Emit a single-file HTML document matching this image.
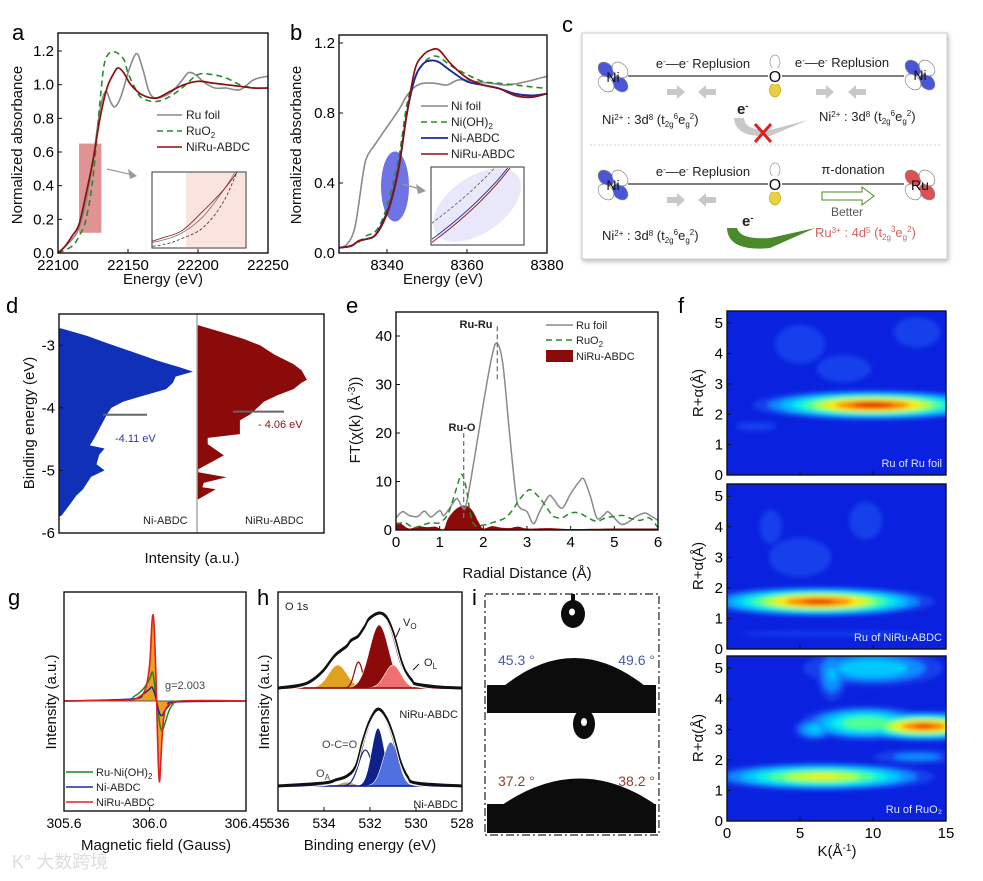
<!DOCTYPE html>
<html><head><meta charset="utf-8">
<style>
html,body{margin:0;padding:0;background:#fff;}
svg{display:block;font-family:"Liberation Sans","Noto Sans CJK SC",sans-serif;}
</style></head>
<body>
<svg id="fig" width="983" height="881" viewBox="0 0 983 881">
<defs>
  <filter id="blur2" x="-20%" y="-20%" width="140%" height="140%"><feGaussianBlur stdDeviation="2.5"/></filter>
  <filter id="shadow" x="-5%" y="-5%" width="110%" height="110%"><feDropShadow dx="1" dy="2" stdDeviation="2.5" flood-color="#888" flood-opacity="0.6"/></filter>
  <clipPath id="clipf1"><rect x="727" y="311" width="219" height="164"/></clipPath>
  <clipPath id="clipf2"><rect x="727" y="484" width="219" height="165"/></clipPath>
  <clipPath id="clipf3"><rect x="727" y="656" width="219" height="165"/></clipPath>
</defs>

<g font-size="22">
  <text x="12" y="40">a</text>
  <text x="290" y="40">b</text>
  <text x="562" y="32">c</text>
  <text x="6" y="313">d</text>
  <text x="346" y="313">e</text>
  <text x="678" y="313">f</text>
  <text x="8" y="605">g</text>
  <text x="257" y="605">h</text>
  <text x="472" y="605">i</text>
</g>

<g font-size="15" fill="#111">
  <text transform="translate(22,145) rotate(-90)" text-anchor="middle">Normalized absorbance</text>
  <text x="163" y="284" text-anchor="middle">Energy (eV)</text>
  <text transform="translate(301,145) rotate(-90)" text-anchor="middle">Normalized absorbance</text>
  <text x="443" y="284" text-anchor="middle">Energy (eV)</text>
  <text transform="translate(34,423) rotate(-90)" text-anchor="middle">Binding energy (eV)</text>
  <text x="192" y="563" text-anchor="middle">Intensity (a.u.)</text>
  <text transform="translate(360,420) rotate(-90)" text-anchor="middle">FT(χ(k) (Å<tspan baseline-shift="super" font-size="10">-3</tspan>))</text>
  <text x="527" y="578" text-anchor="middle">Radial Distance (Å)</text>
  <text transform="translate(703,393) rotate(-90)" text-anchor="middle">R+α(Å)</text>
  <text transform="translate(703,566) rotate(-90)" text-anchor="middle">R+α(Å)</text>
  <text transform="translate(703,738) rotate(-90)" text-anchor="middle">R+α(Å)</text>
  <text x="837" y="856" text-anchor="middle">K(Å<tspan baseline-shift="super" font-size="10">-1</tspan>)</text>
  <text transform="translate(56,702) rotate(-90)" text-anchor="middle">Intensity (a.u.)</text>
  <text x="156" y="850" text-anchor="middle">Magnetic field (Gauss)</text>
  <text transform="translate(269,702) rotate(-90)" text-anchor="middle">Intensity (a.u.)</text>
  <text x="370" y="850" text-anchor="middle">Binding energy (eV)</text>
</g>

<g font-size="12" fill="#222">
  <line x1="157" y1="115" x2="182" y2="115" stroke="#888" stroke-width="1.5"/>
  <text x="186" y="119">Ru foil</text>
  <line x1="157" y1="131" x2="182" y2="131" stroke="#2a8a2a" stroke-width="1.6" stroke-dasharray="6,4"/>
  <text x="186" y="135">RuO<tspan font-size="8" dy="3">2</tspan></text>
  <line x1="157" y1="147" x2="182" y2="147" stroke="#8b1010" stroke-width="1.6"/>
  <text x="186" y="151">NiRu-ABDC</text>

  <line x1="421" y1="106" x2="448" y2="106" stroke="#888" stroke-width="1.5"/>
  <text x="451" y="110">Ni foil</text>
  <line x1="421" y1="122" x2="448" y2="122" stroke="#2a8a2a" stroke-width="1.6" stroke-dasharray="6,4"/>
  <text x="451" y="126">Ni(OH)<tspan font-size="8" dy="3">2</tspan></text>
  <line x1="421" y1="138" x2="448" y2="138" stroke="#1a2a9a" stroke-width="1.8"/>
  <text x="451" y="142">Ni-ABDC</text>
  <line x1="421" y1="154" x2="448" y2="154" stroke="#8b1010" stroke-width="1.6"/>
  <text x="451" y="158">NiRu-ABDC</text>

  <line x1="546" y1="325" x2="573" y2="325" stroke="#888" stroke-width="1.5"/>
  <text x="576" y="329" font-size="11">Ru foil</text>
  <line x1="546" y1="340" x2="573" y2="340" stroke="#2a8a2a" stroke-width="1.6" stroke-dasharray="6,4"/>
  <text x="576" y="344" font-size="11">RuO<tspan font-size="8" dy="3">2</tspan></text>
  <rect x="546" y="350" width="27" height="12" fill="#8b0a0a"/>
  <text x="576" y="360" font-size="11">NiRu-ABDC</text>
  <text x="476" y="328" font-size="11" font-weight="bold" text-anchor="middle">Ru-Ru</text>
  <text x="462" y="431" font-size="11" font-weight="bold" text-anchor="middle">Ru-O</text>

  <text x="115" y="442" font-size="11" fill="#2a3aa0">-4.11 eV</text>
  <text x="258" y="428" font-size="11" fill="#8b1010">- 4.06 eV</text>
  <text x="143" y="524" font-size="11">Ni-ABDC</text>
  <text x="245" y="524" font-size="11">NiRu-ABDC</text>

  <text x="165" y="689" font-size="11" fill="#444">g=2.003</text>
  <line x1="66" y1="772" x2="93" y2="772" stroke="#1a8a1a" stroke-width="1.6"/>
  <text x="96" y="776" font-size="11">Ru-Ni(OH)<tspan font-size="8" dy="3">2</tspan></text>
  <line x1="66" y1="787" x2="93" y2="787" stroke="#1a2a9a" stroke-width="1.6"/>
  <text x="96" y="791" font-size="11">Ni-ABDC</text>
  <line x1="66" y1="802" x2="93" y2="802" stroke="#e02020" stroke-width="1.6"/>
  <text x="96" y="806" font-size="11">NiRu-ABDC</text>

  <text x="285" y="610" font-size="11">O 1s</text>
  <text x="403" y="626" font-size="11">V<tspan font-size="8" dy="3">O</tspan></text>
  <text x="424" y="666" font-size="11">O<tspan font-size="8" dy="3">L</tspan></text>
  <text x="458" y="718" font-size="11" text-anchor="end">NiRu-ABDC</text>
  <text x="322" y="748" font-size="11" fill="#444">O-C=O</text>
  <text x="316" y="777" font-size="11" fill="#444">O<tspan font-size="8" dy="3">A</tspan></text>
  <text x="458" y="808" font-size="11" text-anchor="end">Ni-ABDC</text>
  <line x1="400" y1="628" x2="396" y2="637" stroke="#111"/>
  <line x1="419" y1="664" x2="413" y2="670" stroke="#111"/>
</g>

<g>
  <rect x="485" y="594" width="174" height="241" fill="#fff" stroke="#222" stroke-width="1.2" stroke-dasharray="8,3,2,3"/>
  <rect x="487" y="685" width="169" height="28" fill="#0c0c0c"/>
  <path d="M504,686 Q574,630 645,686 Z" fill="#0c0c0c"/>
  <line x1="573" y1="594" x2="573" y2="602" stroke="#0c0c0c" stroke-width="4"/>
  <ellipse cx="573" cy="614" rx="12" ry="14" fill="#0c0c0c"/>
  <ellipse cx="572" cy="612" rx="3" ry="3.5" fill="#fff"/>
  <text x="498" y="665" font-size="14" fill="#4a5aaa">45.3 °</text>
  <text x="655" y="665" font-size="14" fill="#4a5aaa" text-anchor="end">49.6 °</text>
  <rect x="487" y="804" width="169" height="29" fill="#0c0c0c"/>
  <path d="M502,805 Q580,752 656,805 Z" fill="#0c0c0c"/>
  <ellipse cx="584" cy="724" rx="11" ry="15" fill="#0c0c0c"/>
  <ellipse cx="584" cy="722" rx="3" ry="4" fill="#fff"/>
  <text x="498" y="786" font-size="14" fill="#9a3a2a">37.2 °</text>
  <text x="655" y="786" font-size="14" fill="#9a3a2a" text-anchor="end">38.2 °</text>
</g>

<g>
  <rect x="582" y="33" width="365" height="226" fill="#fff" stroke="#ccc" filter="url(#shadow)"/>
  <line x1="590" y1="145" x2="940" y2="145" stroke="#ccc" stroke-dasharray="2,2"/>
  <g id="orbitals"></g>
  <g font-size="13" fill="#222">
    <line x1="628" y1="76" x2="904" y2="76" stroke="#555" stroke-width="1.5"/>
    <line x1="628" y1="184" x2="904" y2="184" stroke="#555" stroke-width="1.5"/>
    <text x="703" y="68" text-anchor="middle">e<tspan font-size="8" baseline-shift="super">-</tspan>—e<tspan font-size="8" baseline-shift="super">-</tspan> Replusion</text>
    <text x="842" y="67" text-anchor="middle">e<tspan font-size="8" baseline-shift="super">-</tspan>—e<tspan font-size="8" baseline-shift="super">-</tspan> Replusion</text>
    <text x="703" y="176" text-anchor="middle">e<tspan font-size="8" baseline-shift="super">-</tspan>—e<tspan font-size="8" baseline-shift="super">-</tspan> Replusion</text>
    <text x="853" y="174" text-anchor="middle">π-donation</text>
    <text x="602" y="124">Ni<tspan font-size="8" baseline-shift="super">2+</tspan> : 3d<tspan font-size="8" baseline-shift="super">8</tspan> (t<tspan font-size="8" dy="3">2g</tspan><tspan font-size="8" dy="-8">6</tspan><tspan dy="5">e</tspan><tspan font-size="8" dy="3">g</tspan><tspan font-size="8" dy="-8">2</tspan><tspan dy="5">)</tspan></text>
    <text x="819" y="121">Ni<tspan font-size="8" baseline-shift="super">2+</tspan> : 3d<tspan font-size="8" baseline-shift="super">8</tspan> (t<tspan font-size="8" dy="3">2g</tspan><tspan font-size="8" dy="-8">6</tspan><tspan dy="5">e</tspan><tspan font-size="8" dy="3">g</tspan><tspan font-size="8" dy="-8">2</tspan><tspan dy="5">)</tspan></text>
    <text x="602" y="240">Ni<tspan font-size="8" baseline-shift="super">2+</tspan> : 3d<tspan font-size="8" baseline-shift="super">8</tspan> (t<tspan font-size="8" dy="3">2g</tspan><tspan font-size="8" dy="-8">6</tspan><tspan dy="5">e</tspan><tspan font-size="8" dy="3">g</tspan><tspan font-size="8" dy="-8">2</tspan><tspan dy="5">)</tspan></text>
    <text x="815" y="237" fill="#d86060">Ru<tspan font-size="8" baseline-shift="super">3+</tspan> : 4d<tspan font-size="8" baseline-shift="super">5</tspan> (t<tspan font-size="8" dy="3">2g</tspan><tspan font-size="8" dy="-8">3</tspan><tspan dy="5">e</tspan><tspan font-size="8" dy="3">g</tspan><tspan font-size="8" dy="-8">2</tspan><tspan dy="5">)</tspan></text>
    <text x="737" y="114" font-weight="bold" font-size="15">e<tspan font-size="9" baseline-shift="super">-</tspan></text>
    <text x="742" y="226" font-weight="bold" font-size="15">e<tspan font-size="9" baseline-shift="super">-</tspan></text>
    <text x="847" y="216" text-anchor="middle" font-size="12" fill="#555">Better</text>
  </g>
  <path d="M734,118 Q735,138 770,136 L808,120 L770,130 Q745,131 744,118 Z" fill="#c8c8c8"/>
  <path d="M755,124 L771,142 M771,124 L755,142" stroke="#e02020" stroke-width="3"/>
  <path d="M727,228 Q728,252 770,248 L815,228 L770,238 Q740,240 737,228 Z" fill="#4a8a2a"/>
  <path d="M822,192 L862,192 L862,187 L874,196 L862,205 L862,200 L822,200 Z" fill="#fff" stroke="#4a8a2a"/>
  <g fill="#c8c8c8">
    <path d="M667,89 L677,89 L677,85 L685,92 L677,99 L677,95 L667,95 Z"/>
    <path d="M716,89 L706,89 L706,85 L698,92 L706,99 L706,95 L716,95 Z"/>
    <path d="M816,89 L826,89 L826,85 L834,92 L826,99 L826,95 L816,95 Z"/>
    <path d="M866,89 L856,89 L856,85 L848,92 L856,99 L856,95 L866,95 Z"/>
    <path d="M667,197 L677,197 L677,193 L685,200 L677,207 L677,203 L667,203 Z"/>
    <path d="M716,197 L706,197 L706,193 L698,200 L706,207 L706,203 L716,203 Z"/>
  </g>
</g>

<text x="12" y="868" font-size="18" fill="#ddd">K° 大数跨境</text>

<script>
const aRuFoilE = [22100,22110,22115,22120,22125,22130,22134,22138,22141,22145,22150,22154,22157,22161,22165,22170,22180,22188,22193,22198,22205,22212,22220,22230,22240,22250];
const aRuFoilY = [0.0,0.08,0.15,0.3,0.55,0.85,0.96,0.89,0.87,0.93,1.07,1.16,1.18,1.08,0.96,0.92,0.95,1.02,1.07,1.06,1.01,0.98,0.98,0.97,1.03,1.05];
const aRuO2E = [22100,22110,22115,22120,22125,22130,22133,22137,22142,22147,22150,22155,22160,22170,22180,22190,22200,22210,22220,22230,22240,22250];
const aRuO2Y = [0.0,0.04,0.1,0.2,0.45,0.9,1.12,1.19,1.19,1.15,1.07,0.98,0.92,0.9,0.93,0.99,1.06,1.06,1.04,1.0,0.98,0.98];
const aNiRuE = [22100,22105,22110,22115,22120,22125,22130,22135,22140,22143,22147,22152,22160,22170,22180,22190,22200,22210,22220,22230,22240,22250];
const aNiRuY = [0.0,0.04,0.1,0.17,0.35,0.55,0.8,0.98,1.07,1.1,1.07,1.0,0.94,0.92,0.96,1.0,1.02,1.01,1.0,0.99,0.98,0.98];
const aXTicks = [22100,22150,22200,22250];
const aXLabels = ['22100','22150','22200','22250'];
const aYTicks = [0,0.2,0.4,0.6,0.8,1.0,1.2];
const aYLabels = ['0.0','0.2','0.4','0.6','0.8','1.0','1.2'];
const bNiFoilE = [8328,8330,8332,8334,8335,8337,8340,8343,8345,8347,8349,8352,8355,8358,8362,8366,8370,8375,8380];
const bNiFoilY = [0.03,0.05,0.15,0.45,0.55,0.62,0.72,0.82,0.9,0.95,0.97,0.97,0.96,0.99,0.98,0.97,0.96,0.98,1.01];
const bNiOHE = [8328,8332,8335,8337,8339,8341,8343,8345,8347,8349,8351,8353,8356,8360,8364,8368,8372,8376,8380];
const bNiOHY = [0.03,0.05,0.1,0.12,0.2,0.35,0.55,0.85,1.0,1.08,1.12,1.12,1.07,1.02,0.98,0.97,0.96,0.95,0.94];
const bNiABDCE = [8328,8331,8333,8335,8337,8339,8341,8343,8345,8347,8349,8351,8353,8356,8360,8364,8368,8372,8376,8380];
const bNiABDCY = [0.03,0.04,0.07,0.08,0.1,0.18,0.3,0.5,0.8,1.0,1.08,1.1,1.09,1.04,0.98,0.96,0.94,0.91,0.9,0.91];
const bNiRuE = [8328,8331,8333,8335,8337,8339,8341,8343,8345,8347,8349,8351,8353,8356,8360,8364,8368,8372,8376,8380];
const bNiRuY = [0.03,0.04,0.07,0.08,0.1,0.17,0.29,0.49,0.8,1.05,1.13,1.16,1.16,1.08,1.0,0.96,0.94,0.9,0.89,0.91];
const bXTicks = [8340,8360,8380];
const bXLabels = ['8340','8360','8380'];
const bYTicks = [0,0.4,0.8,1.2];
const bYLabels = ['0.0','0.4','0.8','1.2'];
const dBlueE = [-2.73,-2.85,-2.95,-3.1,-3.25,-3.35,-3.42,-3.5,-3.6,-3.7,-3.8,-3.9,-4.0,-4.1,-4.3,-4.5,-4.6,-4.65,-4.75,-4.9,-5.0,-5.1,-5.2,-5.3,-5.4,-5.55,-5.73];
const dBlueI = [1.6,21,34,54,74,90,100,87,85,80,64,48,39,36,31,26,23,34,30,28,34,24,21,18,13,8,1.6];
const dRedE = [-2.68,-2.8,-2.9,-3.0,-3.15,-3.3,-3.4,-3.55,-3.6,-3.7,-3.8,-3.9,-4.0,-4.1,-4.2,-4.42,-4.48,-4.58,-4.76,-4.98,-5.03,-5.11,-5.2,-5.27,-5.3,-5.46];
const dRedI = [1,20,35,47,58,72,78,82,78,72,60,50,45,40,32,32,8,8,20,1,1,22,5,4,14,1];
const dYTicks = [-3,-4,-5,-6];
const dYLabels = ['-3','-4','-5','-6'];
const dVbmBlue = -4.11, dVbmRed = -4.06;
const eR = [0,0.15,0.3,0.5,0.65,0.8,1.0,1.1,1.3,1.4,1.5,1.6,1.8,2.0,2.2,2.32,2.45,2.6,2.75,2.85,3.0,3.15,3.3,3.5,3.6,3.8,4.0,4.2,4.3,4.45,4.6,4.75,4.85,5.0,5.15,5.3,5.5,5.7,5.85,6.0];
const eRuFoil = [2.5,3.8,3.0,2.8,3.9,2.7,4.0,3.0,5.5,6.5,5.0,5.0,15,26,36,38.5,34,20,7,4.5,3.8,1.3,4,7,6.5,4.5,7.5,10,10.5,7,2.5,3,3.8,2.5,1.2,1.5,2.8,3.5,2.8,2.0];
const eR2 = [0,0.2,0.4,0.6,0.8,1.0,1.2,1.4,1.5,1.6,1.7,1.8,2.0,2.2,2.5,2.7,2.8,3.0,3.1,3.3,3.5,3.6,3.8,4.0,4.2,4.4,4.6,4.8,5.0,5.2,5.4,5.6,5.8,6.0];
const eRuO2 = [1.2,1.5,0.5,1.0,1.5,1.5,3.5,9,11.5,9,3.5,1.0,1.0,1.5,2.5,4.5,6,8,8.2,6.5,4,2.8,2.5,3.5,3.5,2.5,1.8,2.5,2.8,3.0,2.3,2.0,2.5,0.5];
const eR3 = [0,0.1,0.3,0.5,0.7,0.9,1.0,1.1,1.2,1.4,1.6,1.75,1.9,2.0,2.2,2.4,2.6,2.8,3.0,3.5,4.0,5.0,6.0];
const eNiRu = [1.5,1.4,0.3,0.8,0.6,0.7,0.3,0.2,2.5,4.5,5.0,4.0,1.5,0.3,0.8,0.5,0.4,0.7,0.3,0.4,0.2,0.3,0.3];
const eXTicks = [0,1,2,3,4,5,6];
const eXLabels = ['0','1','2','3','4','5','6'];
const eYTicks = [0,10,20,30,40];
const eYLabels = ['0','10','20','30','40'];
const ePeakRuO = 1.55, ePeakRuRu = 2.32;
const f1K = [10, 13, 5, 2, 8];
const f1R = [2.3, 4.7, 4.3, 1.6, 3.5];
const f1WK = [6.4, 2.5, 4, 3, 5];
const f1WR = [0.38, 0.8, 1.5, 0.3, 1.2];
const f1P = [1.05, 0.3, 0.24, 0.25, 0.23];
const f2K = [6.3, 9.5, 5, 7, 3];
const f2R = [1.55, 4.2, 3.0, 0.5, 4];
const f2WK = [6.2, 2.2, 5, 12, 2];
const f2WR = [0.38, 1.2, 1.5, 0.15, 1.5];
const f2P = [1.03, 0.26, 0.24, 0.26, 0.23];
const f3K = [13.5, 9.5, 6, 10, 7.2, 6.5, 13];
const f3R = [3.1, 3.2, 3.0, 5.0, 4.8, 1.45, 2.1];
const f3WK = [4.2, 4, 1.6, 5, 1.2, 6.5, 4];
const f3WR = [0.38, 0.5, 0.4, 0.6, 1.0, 0.38, 0.3];
const f3P = [1.02, 0.7, 0.45, 0.5, 0.42, 0.82, 0.35];
const fKTicks = [0,5,10,15];
const fKLabels = ['0','5','10','15'];
const fRTicks = [0,1,2,3,4,5];
const fRLabels = ['0','1','2','3','4','5'];
const gRedB = [305.6,305.75,305.9,305.95,305.98,306.0,306.01,306.016,306.022,306.03,306.035,306.04,306.046,306.052,306.06,306.07,306.09,306.15,306.3,306.45];
const gRedI = [0,0.02,0.05,0.2,0.6,1.8,3.8,4.3,3.5,1.0,-1.0,-3.0,-4.05,-3.0,-1.5,-0.6,-0.2,0.0,0.02,0];
const gGreenB = [305.6,305.88,305.93,305.97,306.0,306.012,306.02,306.03,306.04,306.05,306.06,306.075,306.09,306.11,306.14,306.45];
const gGreenI = [0,0.05,0.25,0.6,1.1,1.45,1.1,0.2,-0.6,-1.3,-1.45,-1.0,-0.5,-0.15,0,0];
const gBlueB = [305.6,305.92,305.97,306.0,306.01,306.02,306.03,306.04,306.05,306.06,306.07,306.09,306.12,306.45];
const gBlueI = [0,0.1,0.35,0.6,0.7,0.5,0.1,-0.4,-0.7,-0.7,-0.5,-0.25,-0.05,0];
const gXTicks = [305.6,306.0,306.45];
const gXLabels = ['305.6','306.0','306.45'];
const hTopE = [536,535,534.5,534,533.5,533,532.8,532.5,532.2,532,531.6,531.3,531,530.7,530.5,530.2,530,529,528];
const hTopI = [0,0.3,0.8,1.8,3.3,4.2,4.8,5.2,6.2,7.0,7.5,7.1,5.5,3.0,1.8,0.8,0.4,0.1,0];
const hBotE = [536,534,533.5,533,532.6,532.3,532,531.65,531.3,531,530.7,530.4,530,528];
const hBotI = [0,0.3,0.6,1.0,2.0,4.5,6.5,7.7,6.8,5.0,2.5,1.0,0.3,0];
const hTopC = [533.4, 532.5, 531.6, 531.0];
const hTopH = [2.3, 2.6, 6.3, 2.3];
const hTopW = [0.4, 0.18, 0.42, 0.35];
const hBotC = [533.0, 532.2, 531.65, 531.1];
const hBotH = [0.4, 3.6, 5.8, 4.4];
const hBotW = [0.3, 0.3, 0.28, 0.33];
const hXTicks = [536,534,532,530,528];
const hXLabels = ['536','534','532','530','528'];

const NS = 'http://www.w3.org/2000/svg';
const svg = document.getElementById('fig');
function add(tag, attrs, name, parent) {
  const el = document.createElementNS(NS, tag);
  for (const k in attrs) el.setAttribute(k, attrs[k]);
  
  
  (parent || svg).appendChild(el);
  return el;
}
function txt(x, y, s, attrs, name) {
  const t = add('text', Object.assign({x: x, y: y}, attrs), name);
  t.textContent = s;
  return t;
}
function scale(d0, d1, r0, r1) { return v => r0 + (v - d0) / (d1 - d0) * (r1 - r0); }
function pts(xs, ys, sx, sy) { return xs.map((x, i) => [sx(x), sy(ys[i])]); }
function smooth(p, start) {
  let d = (start ? 'L' : 'M') + p[0][0].toFixed(1) + ',' + p[0][1].toFixed(1);
  for (let i = 0; i < p.length - 1; i++) {
    const p0 = p[Math.max(0, i - 1)], p1 = p[i], p2 = p[i + 1], p3 = p[Math.min(p.length - 1, i + 2)];
    const c1 = [p1[0] + (p2[0] - p0[0]) / 6, p1[1] + (p2[1] - p0[1]) / 6];
    const c2 = [p2[0] - (p3[0] - p1[0]) / 6, p2[1] - (p3[1] - p1[1]) / 6];
    d += 'C' + c1[0].toFixed(1) + ',' + c1[1].toFixed(1) + ' ' + c2[0].toFixed(1) + ',' + c2[1].toFixed(1) + ' ' + p2[0].toFixed(1) + ',' + p2[1].toFixed(1);
  }
  return d;
}
function frame(b, name) {
  add('rect', {x: b[0], y: b[1], width: b[2] - b[0], height: b[3] - b[1], fill: 'none', stroke: '#111', 'stroke-width': 1.4}, name);
}
function xAxis(b, ticks, labels, sx, name, fs) {
  ticks.forEach((v, i) => {
    add('line', {x1: sx(v), x2: sx(v), y1: b[3], y2: b[3] - 4, stroke: '#111'}, name + '-tick');
    if (labels) txt(sx(v), b[3] + 17, labels[i], {'text-anchor': 'middle', 'font-size': fs || 15}, name + '-tick-label');
  });
}
function yAxis(b, ticks, labels, sy, name, fs) {
  ticks.forEach((v, i) => {
    add('line', {x1: b[0], x2: b[0] + 4, y1: sy(v), y2: sy(v), stroke: '#111'}, name + '-tick');
    txt(b[0] - 4, sy(v) + 5, labels[i], {'text-anchor': 'end', 'font-size': fs || 15}, name + '-tick-label');
  });
}
function gauss(c, h, w) { return x => h * Math.exp(-0.5 * Math.pow((x - c) / w, 2)); }

(function () {
  const b = [58, 33, 268, 253];
  const sx = scale(22100, 22250, b[0], b[2]);
  const sy = scale(0, 1.2, 253, 51);
  add('rect', {x: sx(22115), y: sy(0.65), width: sx(22131) - sx(22115), height: sy(0.12) - sy(0.65), fill: '#d98080', opacity: 0.85}, 'a-highlight-box');
  add('path', {d: smooth(pts(aRuFoilE, aRuFoilY, sx, sy)), fill: 'none', stroke: '#8a8a8a', 'stroke-width': 1.6}, 'a-ru-foil-line');
  add('path', {d: smooth(pts(aRuO2E, aRuO2Y, sx, sy)), fill: 'none', stroke: '#2a8a2a', 'stroke-width': 1.6, 'stroke-dasharray': '6,4'}, 'a-ruo2-line');
  add('path', {d: smooth(pts(aNiRuE, aNiRuY, sx, sy)), fill: 'none', stroke: '#8b1010', 'stroke-width': 1.7}, 'a-niru-line');
  const ib = [152, 172, 246, 248];
  add('rect', {x: ib[0], y: ib[1], width: ib[2] - ib[0], height: ib[3] - ib[1], fill: '#fff', stroke: '#333'}, 'a-inset-frame');
  add('rect', {x: 186, y: ib[1] + 1, width: ib[2] - 187, height: ib[3] - ib[1] - 2, fill: '#fbe4e0'}, 'a-inset-shade');
  const isx = scale(22108, 22130, ib[0], ib[2]);
  const isy = scale(0.05, 0.7, ib[3] - 4, ib[1]);
  const cp = add('clipPath', {id: 'clipA'}, 'a-inset-clip');
  add('rect', {x: ib[0], y: ib[1], width: ib[2] - ib[0], height: ib[3] - ib[1]}, 'a-inset-clip-rect', cp);
  const g = add('g', {'clip-path': 'url(#clipA)'}, 'a-inset-curves');
  add('path', {d: smooth(pts(aRuFoilE, aRuFoilY, isx, isy)), fill: 'none', stroke: '#777', 'stroke-width': 0.8}, 'a-inset-ru-foil', g);
  add('path', {d: smooth(pts(aRuO2E, aRuO2Y, isx, isy)), fill: 'none', stroke: '#333', 'stroke-width': 0.8, 'stroke-dasharray': '3,2'}, 'a-inset-ruo2', g);
  add('path', {d: smooth(pts(aNiRuE, aNiRuY, isx, isy)), fill: 'none', stroke: '#8b1010', 'stroke-width': 0.8}, 'a-inset-niru', g);
  add('path', {d: 'M107,169 L133,175', stroke: '#999', 'stroke-width': 1.2}, 'a-inset-arrow');
  add('path', {d: 'M137,176 L128,169 L130,179 Z', fill: '#999'}, 'a-inset-arrowhead');
  frame(b, 'a-frame');
  xAxis(b, aXTicks, aXLabels, sx, 'a-x');
  yAxis(b, aYTicks, aYLabels, sy, 'a-y');
})();

(function () {
  const b = [339, 35, 547, 253];
  const sx = scale(8328, 8380, b[0], b[2]);
  const sy = scale(0, 1.2, 253, 43);
  add('ellipse', {cx: sx(8342), cy: sy(0.38), rx: 14, ry: 35, fill: '#4a50e0', opacity: 0.8}, 'b-highlight-ellipse');
  add('path', {d: smooth(pts(bNiFoilE, bNiFoilY, sx, sy)), fill: 'none', stroke: '#8a8a8a', 'stroke-width': 1.6}, 'b-ni-foil-line');
  add('path', {d: smooth(pts(bNiOHE, bNiOHY, sx, sy)), fill: 'none', stroke: '#2a8a2a', 'stroke-width': 1.6, 'stroke-dasharray': '6,4'}, 'b-nioh2-line');
  add('path', {d: smooth(pts(bNiABDCE, bNiABDCY, sx, sy)), fill: 'none', stroke: '#1a2a9a', 'stroke-width': 1.9}, 'b-ni-abdc-line');
  add('path', {d: smooth(pts(bNiRuE, bNiRuY, sx, sy)), fill: 'none', stroke: '#8b1010', 'stroke-width': 1.7}, 'b-niru-line');
  const ib = [431, 167, 524, 245];
  add('rect', {x: ib[0], y: ib[1], width: ib[2] - ib[0], height: ib[3] - ib[1], fill: '#fff', stroke: '#333'}, 'b-inset-frame');
  add('ellipse', {cx: 477, cy: 205, rx: 50, ry: 28, transform: 'rotate(-35 477 205)', fill: '#e8e8fa'}, 'b-inset-shade');
  const cp = add('clipPath', {id: 'clipB'}, 'b-inset-clip');
  add('rect', {x: ib[0] + 1, y: ib[1] + 1, width: ib[2] - ib[0] - 2, height: ib[3] - ib[1] - 2}, 'b-inset-clip-rect', cp);
  const g = add('g', {'clip-path': 'url(#clipB)'}, 'b-inset-curves');
  const isx = scale(8341.2, 8343.8, ib[0], ib[2]);
  const isy = scale(0.3, 0.55, ib[3], ib[1]);
  add('path', {d: smooth(pts(bNiOHE, bNiOHY, isx, isy)), fill: 'none', stroke: '#555', 'stroke-width': 0.8, 'stroke-dasharray': '3,2'}, 'b-inset-nioh2', g);
  add('path', {d: smooth(pts(bNiABDCE, bNiABDCY, isx, isy)), fill: 'none', stroke: '#1a2a9a', 'stroke-width': 0.9}, 'b-inset-ni-abdc', g);
  add('path', {d: smooth(pts(bNiRuE, bNiRuY, isx, isy)), fill: 'none', stroke: '#8b1010', 'stroke-width': 0.9}, 'b-inset-niru', g);
  add('path', {d: 'M402,184 L420,189', stroke: '#999', 'stroke-width': 1.2}, 'b-inset-arrow');
  add('path', {d: 'M426,191 L416,184 L418,194 Z', fill: '#999'}, 'b-inset-arrowhead');
  frame(b, 'b-frame');
  xAxis(b, bXTicks, bXLabels, sx, 'b-x');
  yAxis(b, bYTicks, bYLabels, sy, 'b-y');
})();

(function () {
  const b = [59, 314, 324, 533];
  const sy = scale(-2.5, -6, b[1], b[3]);
  const sxB = scale(0, 100, 59, 193);
  const sxR = scale(0, 100, 197, 331);
  let d = 'M' + sxB(0) + ',' + sy(dBlueE[0]);
  dBlueE.forEach((e, i) => { d += 'L' + sxB(dBlueI[i]).toFixed(1) + ',' + sy(e).toFixed(1); });
  d += 'L' + sxB(0) + ',' + sy(dBlueE[dBlueE.length - 1]) + 'Z';
  add('path', {d: d, fill: '#1030b8'}, 'd-ni-abdc-area');
  d = 'M' + sxR(0) + ',' + sy(dRedE[0]);
  dRedE.forEach((e, i) => { d += 'L' + sxR(dRedI[i]).toFixed(1) + ',' + sy(e).toFixed(1); });
  d += 'L' + sxR(0) + ',' + sy(dRedE[dRedE.length - 1]) + 'Z';
  add('path', {d: d, fill: '#8b0a0a'}, 'd-niru-area');
  add('line', {x1: 197, x2: 197, y1: b[1], y2: b[3], stroke: '#aaa', 'stroke-width': 1.5}, 'd-divider');
  add('line', {x1: 103, x2: 147, y1: sy(dVbmBlue), y2: sy(dVbmBlue), stroke: '#666', 'stroke-width': 2}, 'd-ni-abdc-vbm-line');
  add('line', {x1: 233, x2: 284, y1: sy(dVbmRed), y2: sy(dVbmRed), stroke: '#666', 'stroke-width': 2}, 'd-niru-vbm-line');
  frame(b, 'd-frame');
  yAxis(b, dYTicks, dYLabels, sy, 'd-y');
})();

(function () {
  const b = [396, 312, 658, 530];
  const sx = scale(0, 6, b[0], b[2]);
  const sy = scale(0, 40, 530, 336);
  const p = pts(eR3, eNiRu, sx, sy);
  add('path', {d: 'M' + sx(0) + ',' + sy(0) + smooth(p, true) + 'L' + sx(6) + ',' + sy(0) + 'Z', fill: '#8b0a0a'}, 'e-niru-area');
  add('path', {d: smooth(pts(eR, eRuFoil, sx, sy)), fill: 'none', stroke: '#8a8a8a', 'stroke-width': 1.5}, 'e-ru-foil-line');
  add('path', {d: smooth(pts(eR2, eRuO2, sx, sy)), fill: 'none', stroke: '#2a8a2a', 'stroke-width': 1.5, 'stroke-dasharray': '6,4'}, 'e-ruo2-line');
  add('line', {x1: sx(ePeakRuO), x2: sx(ePeakRuO), y1: sy(20), y2: sy(2), stroke: '#777', 'stroke-dasharray': '5,3', 'stroke-width': 1.3}, 'e-ru-o-marker');
  add('line', {x1: sx(ePeakRuRu), x2: sx(ePeakRuRu), y1: sy(42), y2: sy(31), stroke: '#777', 'stroke-dasharray': '5,3', 'stroke-width': 1.3}, 'e-ru-ru-marker');
  frame(b, 'e-frame');
  xAxis(b, eXTicks, eXLabels, sx, 'e-x');
  yAxis(b, eYTicks, eYLabels, sy, 'e-y');
})();

const jetLevels = [0.2, 0.3, 0.4, 0.5, 0.6, 0.7, 0.8, 0.9, 1.0];
const jetColors = ['#1240ec', '#0a8cff', '#00c8ff', '#10f0e0', '#50ff90', '#b8ff30', '#ffe600', '#ff7a00', '#e01000'];
function heatmap(top, bottom, K, R, WK, WR, P, clip, name, label, showX) {
  const b = [727, top, 946, bottom];
  const sx = scale(0, 15, b[0], b[2]);
  const sy = scale(0, 5.4, b[3], b[1]);
  add('rect', {x: b[0], y: b[1], width: b[2] - b[0], height: b[3] - b[1], fill: '#0a22e0'}, name + '-background');
  const g = add('g', {'clip-path': 'url(#' + clip + ')'}, name + '-cells');
  const inner = add('g', {filter: 'url(#blur2)'}, name + '-blobs', g);
  jetLevels.forEach((L, li) => {
    K.forEach((k, i) => {
      if (P[i] <= L) return;
      const f = Math.sqrt(Math.log(P[i] / L));
      add('ellipse', {cx: sx(k), cy: sy(R[i]), rx: (sx(WK[i] * f) - sx(0)), ry: (sy(0) - sy(WR[i] * f)), fill: jetColors[li]}, name + '-blob-level', inner);
    });
  });
  frame(b, name + '-frame');
  xAxis(b, fKTicks, showX ? fKLabels : null, sx, name + '-x');
  yAxis(b, fRTicks, fRLabels, sy, name + '-y');
  txt(b[2] - 4, b[3] - 8, label, {'text-anchor': 'end', 'font-size': 11, fill: '#dde4ff'}, name + '-label');
}
heatmap(311, 475, f1K, f1R, f1WK, f1WR, f1P, 'clipf1', 'f1', 'Ru of Ru foil', false);
heatmap(484, 649, f2K, f2R, f2WK, f2WR, f2P, 'clipf2', 'f2', 'Ru of NiRu-ABDC', false);
heatmap(656, 821, f3K, f3R, f3WK, f3WR, f3P, 'clipf3', 'f3', 'Ru of RuO₂', true);

(function () {
  const b = [64, 592, 246, 811];
  const sx = scale(305.6, 306.45, b[0], b[2]);
  const sy = scale(0, 1, 701, 681);
  const pr = pts(gRedB, gRedI, sx, sy);
  add('path', {d: 'M' + sx(305.6) + ',' + sy(0) + smooth(pr, true) + 'Z', fill: '#f0a020'}, 'g-niru-fill');
  add('line', {x1: b[0], x2: b[2], y1: sy(0), y2: sy(0), stroke: '#555', 'stroke-width': 1}, 'g-baseline');
  add('path', {d: smooth(pts(gGreenB, gGreenI, sx, sy)), fill: 'none', stroke: '#1a8a1a', 'stroke-width': 1.5}, 'g-ru-ni-line');
  add('path', {d: smooth(pts(gBlueB, gBlueI, sx, sy)), fill: 'none', stroke: '#1a2a9a', 'stroke-width': 1.5}, 'g-ni-abdc-line');
  add('path', {d: smooth(pr), fill: 'none', stroke: '#e02020', 'stroke-width': 1.6}, 'g-niru-line');
  frame(b, 'g-frame');
  xAxis(b, gXTicks, gXLabels, sx, 'g-x', 14);
})();

(function () {
  const b = [278, 592, 462, 811];
  const sx = scale(536, 528, b[0], b[2]);
  const fills = ['#e0a020', 'none', '#8b0a0a', '#f07070'];
  const fillsB = ['#c0a070', 'none', '#10208a', '#5070e0'];
  function spectrum(base, E, I, C, H, W, fl, stroke, name) {
    const sy = scale(0, 1, base, base - 10);
    const xs = [];
    for (let e = 536; e >= 528; e -= 0.05) xs.push(e);
    C.forEach((c, i) => {
      const fn = gauss(C[i], H[i], W[i]);
      const p = xs.map(e => [sx(e), sy(fn(e))]);
      const d = 'M' + p.map(q => q[0].toFixed(1) + ',' + q[1].toFixed(1)).join('L') + 'Z';
      add('path', {d: d, fill: fl[i], stroke: fl[i] === 'none' ? stroke : '#fff', 'stroke-width': fl[i] === 'none' ? 1.2 : 0.6}, name + '-component');
    });
    add('line', {x1: b[0], x2: b[2], y1: base, y2: base, stroke: stroke, 'stroke-width': 1.5}, name + '-background');
    const pe = pts(E, I, sx, sy);
    add('path', {d: smooth(pe), fill: 'none', stroke: '#111', 'stroke-width': 3}, name + '-envelope');
    add('path', {d: smooth(pe.map(q => [q[0], q[1] + 2.5])), fill: 'none', stroke: '#fff', 'stroke-width': 1}, name + '-fit-line');
  }
  spectrum(688, hTopE, hTopI, hTopC, hTopH, hTopW, fills, '#8b0a0a', 'h-niru');
  spectrum(786, hBotE, hBotI, hBotC, hBotH, hBotW, fillsB, '#10208a', 'h-ni-abdc');
  frame(b, 'h-frame');
  xAxis(b, hXTicks, hXLabels, sx, 'h-x', 14);
})();

function orbital(cx, cy, color, label, name) {
  const g = add('g', {}, name, document.getElementById('orbitals'));
  [[-7, -7, color], [7, 7, color], [7, -7, '#fff'], [-7, 7, '#fff']].forEach(o => {
    add('ellipse', {cx: cx + o[0], cy: cy + o[1], rx: 9, ry: 6.5, transform: 'rotate(45 ' + (cx + o[0]) + ' ' + (cy + o[1]) + ')', fill: o[2], stroke: '#888', 'stroke-width': 0.7}, name + '-lobe', g);
  });
  txt(cx, cy + 5, label, {'text-anchor': 'middle', 'font-size': 14, fill: '#111'}, name + '-label');
}
orbital(613, 77, '#4a55d8', 'Ni', 'c-ni-orbital-top-left');
orbital(920, 75, '#4a55d8', 'Ni', 'c-ni-orbital-top-right');
orbital(613, 185, '#4a55d8', 'Ni', 'c-ni-orbital-bottom');
orbital(920, 185, '#e05050', 'Ru', 'c-ru-orbital');
function oxygen(cx, cy, name) {
  add('ellipse', {cx: cx, cy: cy - 14, rx: 5, ry: 7, fill: '#fff', stroke: '#999', 'stroke-width': 0.7}, name + '-lobe-top');
  add('ellipse', {cx: cx, cy: cy + 14, rx: 5.5, ry: 7, fill: '#e8d040', stroke: '#bba020', 'stroke-width': 0.7}, name + '-lobe-bottom');
  add('rect', {x: cx - 7, y: cy - 8, width: 14, height: 16, fill: '#fff'}, name + '-mask');
  txt(cx, cy + 6, 'O', {'text-anchor': 'middle', 'font-size': 16, fill: '#111'}, name + '-label');
}
oxygen(775, 76, 'c-oxygen-top');
oxygen(775, 184, 'c-oxygen-bottom');
</script>
</svg>
</body></html>
